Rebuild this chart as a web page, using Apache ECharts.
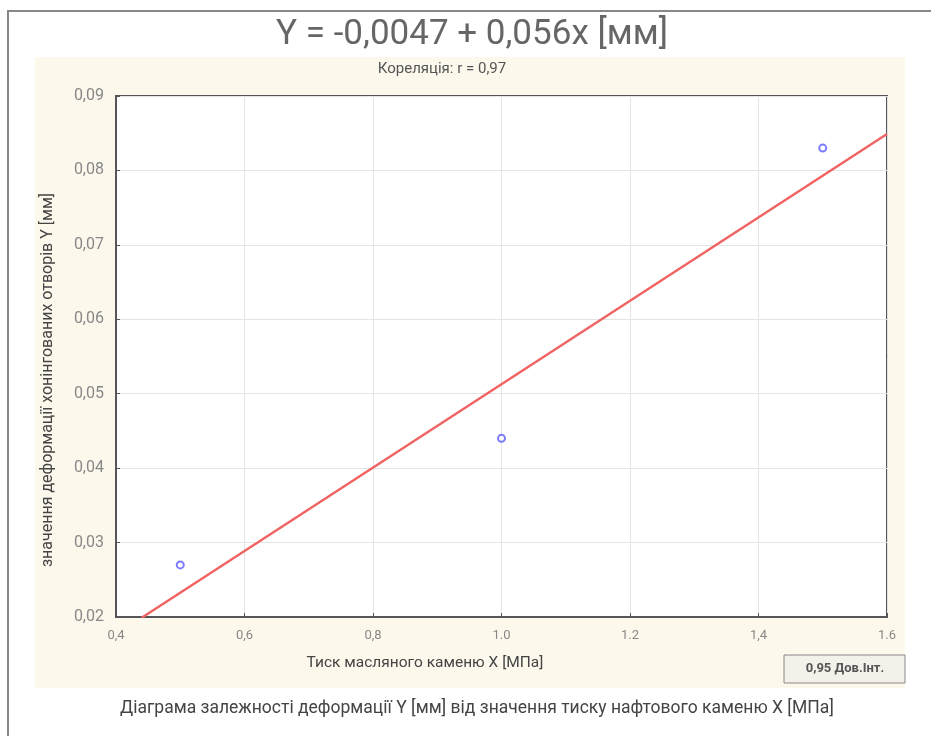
<!DOCTYPE html>
<html><head><meta charset="utf-8">
<script src="https://cdn.jsdelivr.net/npm/echarts@6/dist/echarts.min.js"></script>
<style>html,body{margin:0;padding:0;background:#fff}#c{width:931px;height:736px}</style>
</head><body><div id="c"></div>
<script>
const pointsX = [0.5, 1.0, 1.5];
const pointsY = [0.027, 0.044, 0.083];
const fitX = [0.44, 1.6];
const fitY = [0.0199, 0.0849];
const xTickValues = [0.4, 0.6, 0.8, 1.0, 1.2, 1.4, 1.6];
const xTickLabels = ['0,4', '0,6', '0,8', '1.0', '1.2', '1,4', '1.6'];
const yTickValues = [0.02, 0.03, 0.04, 0.05, 0.06, 0.07, 0.08, 0.09];
const yTickLabels = ['0,02', '0,03', '0,04', '0,05', '0,06', '0,07', '0,08', '0,09'];

const chart = echarts.init(document.getElementById('c'));
const F = 'Roboto, "Liberation Sans", sans-serif';
function xl(v){const i = xTickValues.findIndex(t=>Math.abs(t-v)<1e-6);return i>=0?xTickLabels[i]:'';}
function yl(v){const i = yTickValues.findIndex(t=>Math.abs(t-v)<1e-6);return i>=0?yTickLabels[i]:'';}
chart.setOption({
  animation:false,
  backgroundColor:'#fff',
  graphic:[
    {type:'rect',shape:{x:35,y:57,width:870,height:631},style:{fill:'#fdf8ec'},z:-10},
    {type:'polyline',shape:{points:[[8,736],[8,11],[931,11]]},style:{stroke:'#888',lineWidth:2,fill:null}},
    {type:'rect',shape:{x:784,y:655,width:121,height:28},style:{fill:'#f4f1ea',stroke:'#888',lineWidth:1}},
    {type:'text',x:845,y:669,style:{text:'0,95 Дов.Інт.',fill:'#555',font:'bold 13px '+F,align:'center',verticalAlign:'middle'}},
    {type:'text',x:425,y:663,style:{text:'Тиск масляного каменю X [МПа]',fill:'#444',font:'15.5px '+F,align:'center',verticalAlign:'middle'}},
    {type:'text',x:477,y:709,style:{text:'Діаграма залежності деформації Y [мм] від значення тиску нафтового каменю X [МПа]',fill:'#444',font:'17.5px '+F,align:'center',verticalAlign:'middle'}},
    {type:'text',x:442,y:69,style:{text:'Кореляція: r = 0,97',fill:'#555',font:'15px '+F,align:'center',verticalAlign:'middle'}},
    {type:'text',x:48,y:380,rotation:Math.PI/2,style:{text:'значення деформації хонінгованих отворів Y [мм]',fill:'#444',font:'16px '+F,align:'center',verticalAlign:'middle'}}
  ],
  title:{text:'Y = -0,0047 + 0,056x [мм]',left:467,top:13,textAlign:'center',textStyle:{fontFamily:F,fontSize:35,fontWeight:'normal',color:'#666'}},
  grid:{left:116,top:96,right:44,bottom:119,show:true,backgroundColor:'#fff',borderColor:'#555',borderWidth:2},
  xAxis:{type:'value',min:0.4,max:1.6,interval:0.2,
    axisLine:{show:true,lineStyle:{color:'#555',width:2}},
    axisTick:{show:true,inside:true,length:4,lineStyle:{color:'#555'}},
    axisLabel:{formatter:xl,color:'#888',fontFamily:F,fontSize:13,margin:12},
    splitLine:{show:true,lineStyle:{color:'#e4e4e4',width:1}}},
  yAxis:{type:'value',min:0.02,max:0.09,interval:0.01,
    axisLine:{show:true,lineStyle:{color:'#555',width:2}},
    axisTick:{show:true,inside:true,length:4,lineStyle:{color:'#555'}},
    axisLabel:{formatter:yl,color:'#888',fontFamily:F,fontSize:16,margin:12},
    splitLine:{show:true,lineStyle:{color:'#e4e4e4',width:1}}},
  series:[
    {type:'line',data:fitX.map((x,i)=>[x,fitY[i]]),symbol:'none',lineStyle:{color:'#f06464',width:2.5},z:2},
    {type:'scatter',data:pointsX.map((x,i)=>[x,pointsY[i]]),symbol:'circle',symbolSize:7,
      itemStyle:{color:'#fff',borderColor:'#5a5aff',borderWidth:2},z:3}
  ]
});
</script></body></html>
